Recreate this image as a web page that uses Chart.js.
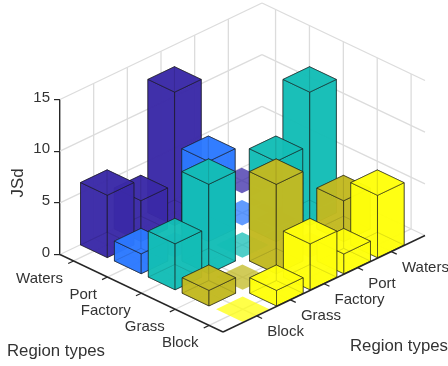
<!DOCTYPE html>
<html><head><meta charset="utf-8">
<style>html,body{margin:0;padding:0;background:#fff}canvas{display:block;filter:blur(0.4px)}</style>
<script src="https://cdn.jsdelivr.net/npm/chart.js@4"></script>
</head><body><canvas id="c" width="448" height="366"></canvas>
<script>
const regionLabels = ['Block','Grass','Factory','Port','Waters'];
const rowBlock   = [0, 1.5, 4.45, 1.92, 6.03];
const rowGrass   = [1.5, 0, 8.65, 0, 3.95];
const rowFactory = [4.45, 8.65, 0, 7.75, 12.9];
const rowPort    = [1.92, 0, 7.75, 0, 0];
const rowWaters  = [6.03, 3.95, 12.9, 0, 0];
const zTicks = [0, 5, 10, 15];
const rowColors = ['255,255,12','194,186,33','20,189,182','44,121,255','58,41,167'];

const FACE_ALPHA = 0.82, FLAT_ALPHA = 0.75, BAR_HALF = 0.395;
const FRONT = {x:223, y:332}, RIGHT_Y = 235.5;
const FONT = '"Liberation Sans", Arial, sans-serif';

function projector(chart){
  const s = chart.scales, a = chart.chartArea;
  const L = {x:a.left, y:a.bottom}, R = {x:a.right, y:RIGHT_Y};
  return (u,v,z)=>{
    const fu = (s.u.getPixelForValue(u)-s.u.left)/s.u.width;
    const fv = (s.v.getPixelForValue(v)-s.v.left)/s.v.width;
    const dz = s.y.getPixelForValue(z)-s.y.getPixelForValue(0);
    return {x:FRONT.x+fu*(R.x-FRONT.x)+fv*(L.x-FRONT.x),
            y:FRONT.y+fu*(R.y-FRONT.y)+fv*(L.y-FRONT.y)+dz};
  };
}
function poly(ctx,pts,fill,stroke){
  ctx.beginPath();
  pts.forEach((p,i)=>i?ctx.lineTo(p.x,p.y):ctx.moveTo(p.x,p.y));
  ctx.closePath();
  if(fill){ctx.fillStyle=fill;ctx.fill();}
  if(stroke){ctx.strokeStyle=stroke;ctx.lineWidth=0.7;ctx.stroke();}
}
function seg(ctx,a,b,color,w){
  ctx.beginPath();ctx.moveTo(a.x,a.y);ctx.lineTo(b.x,b.y);
  ctx.strokeStyle=color;ctx.lineWidth=w;ctx.stroke();
}

class Bar3D extends Chart.BarController{
  draw(){
    const chart=this.chart, ctx=chart.ctx, P=projector(chart);
    const v=this.index+1, meta=this.getMeta(), rgb=this.getDataset().rgb;
    const fill=`rgba(${rgb},${FACE_ALPHA})`, flat=`rgba(${rgb},${FLAT_ALPHA})`, edge='rgba(25,25,25,0.8)';
    ctx.save();
    for(let i=meta.data.length-1;i>=0;i--){
      const u=i+1, h=this.getParsed(i).y, b=BAR_HALF;
      const c=(du,dv,z)=>P(u+du,v+dv,z);
      if(h===0){poly(ctx,[c(-b,-b,0),c(b,-b,0),c(b,b,0),c(-b,b,0)],flat,null);continue;}
      poly(ctx,[c(-b,-b,0),c(b,-b,0),c(b,b,0),c(-b,b,0)],fill,edge);
      poly(ctx,[c(b,b,0),c(-b,b,0),c(-b,b,h),c(b,b,h)],fill,edge);
      poly(ctx,[c(b,-b,0),c(b,b,0),c(b,b,h),c(b,-b,h)],fill,edge);
      poly(ctx,[c(-b,b,0),c(-b,-b,0),c(-b,-b,h),c(-b,b,h)],fill,edge);
      poly(ctx,[c(-b,-b,0),c(b,-b,0),c(b,-b,h),c(-b,-b,h)],fill,edge);
      poly(ctx,[c(-b,-b,h),c(b,-b,h),c(b,b,h),c(-b,b,h)],fill,edge);
    }
    ctx.restore();
  }
}
Bar3D.id='bar3d';
Bar3D.defaults=Chart.BarController.defaults;
Bar3D.overrides=Chart.BarController.overrides;
Chart.register(Bar3D);

const scene={
  id:'scene',
  beforeDatasetsDraw(chart){
    const ctx=chart.ctx,P=projector(chart),s=chart.scales;
    const u0=s.u.min,u1=s.u.max,v0=s.v.min,v1=s.v.max,zTop=s.y.max;
    const grid='#dcdcdc',gw=1.3;
    ctx.save();
    regionLabels.forEach((_,i)=>{
      const t=i+1;
      seg(ctx,P(t,v0,0),P(t,v1,0),grid,gw);
      seg(ctx,P(t,v1,0),P(t,v1,zTop),grid,gw);
      seg(ctx,P(u0,t,0),P(u1,t,0),grid,gw);
      seg(ctx,P(u1,t,0),P(u1,t,zTop),grid,gw);
    });
    zTicks.forEach(z=>{
      seg(ctx,P(u0,v1,z),P(u1,v1,z),grid,gw);
      seg(ctx,P(u1,v1,z),P(u1,v0,z),grid,gw);
    });
    ctx.restore();
  },
  afterDatasetsDraw(chart){
    const ctx=chart.ctx,P=projector(chart),s=chart.scales;
    const u0=s.u.min,u1=s.u.max,v0=s.v.min,v1=s.v.max,ink='#262626';
    ctx.save();
    seg(ctx,P(u0,v1,0),P(u0,v0,0),ink,1.4);
    seg(ctx,P(u0,v0,0),P(u1,v0,0),ink,1.4);
    ctx.font='15px '+FONT;ctx.fillStyle='#333';ctx.textBaseline='middle';
    regionLabels.forEach((lab,i)=>{
      const t=i+1;
      const a=P(t,v0,0),a2=P(t,v0-0.16,0);
      seg(ctx,a,a2,ink,1.2);
      ctx.textAlign='left';ctx.fillText(lab,a.x+10.6,a.y+16.4);
      const b=P(u0,t,0),b2=P(u0-0.16,t,0);
      seg(ctx,b,b2,ink,1.2);
      ctx.textAlign='right';ctx.fillText(lab,b.x-10.5,b.y+17.6);
    });
    ctx.font='16.8px '+FONT;
    ctx.textAlign='left';
    ctx.fillText('Region types',7,351);
    ctx.fillText('Region types',350,346);
    ctx.translate(18,183);ctx.rotate(-Math.PI/2);ctx.textAlign='center';
    ctx.fillText('JSd',0,0);
    ctx.restore();
  }
};

const rows=[rowBlock,rowGrass,rowFactory,rowPort,rowWaters];
new Chart(document.getElementById('c'),{
  type:'bar3d',
  data:{labels:regionLabels,datasets:rows.map((d,i)=>({label:regionLabels[i],data:d,rgb:rowColors[i],clip:false}))},
  plugins:[scene],
  options:{
    responsive:false,animation:false,events:[],
    layout:{padding:{left:0,top:99.5,right:23,bottom:111.5}},
    plugins:{legend:{display:false},tooltip:{enabled:false},title:{display:false}},
    scales:{
      x:{type:'category',display:false},
      u:{type:'linear',axis:'x',min:0,max:6,offset:false,display:false},
      v:{type:'linear',axis:'x',min:0.59,max:5.4,offset:false,display:false},
      y:{type:'linear',min:0,max:15,position:'left',
        afterFit(sc){sc.width=60;},
        afterBuildTicks(sc){sc.ticks=zTicks.map(value=>({value}));},
        border:{display:true,color:'#262626',width:1.4},
        grid:{drawOnChartArea:false,drawTicks:true,tickLength:6,color:'#262626',lineWidth:1.2},
        ticks:{padding:4,labelOffset:-2,color:'#333',font:{family:FONT,size:15}}
      }
    }
  }
});
</script></body></html>
